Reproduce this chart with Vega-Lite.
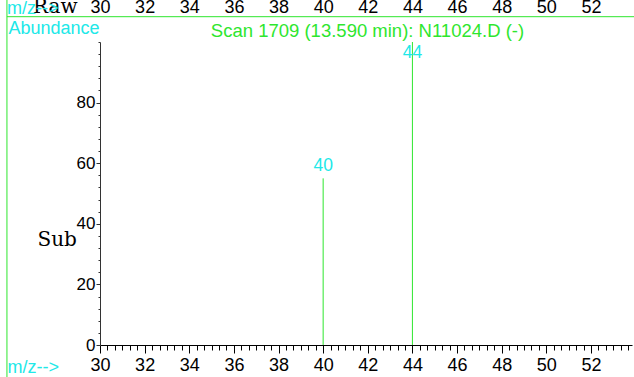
{
  "$schema": "https://vega.github.io/schema/vega-lite/v6.json",
  "width": 532,
  "height": 303,
  "autosize": {"type": "none"},
  "padding": {"left": 100, "top": 42, "right": 2, "bottom": 32},
  "background": "white",
  "config": {
    "view": {"stroke": null},
    "axis": {"grid": false, "labelFont": "Liberation Sans", "titleFont": "Liberation Sans", "titleFontWeight": "normal", "labelFlush": false, "labelOverlap": false},
    "text": {"font": "Liberation Sans"}
  },
  "data": {"values": [{"mz": 40, "abundance": 55}, {"mz": 44, "abundance": 100}]},
  "resolve": {"axis": {"x": "independent", "y": "independent"}},
  "layer": [
    {
      "mark": {"type": "rule", "color": "#2ee62e", "strokeWidth": 1},
      "encoding": {
        "x": {
          "field": "mz", "type": "quantitative",
          "scale": {"domain": [30, 53.84], "nice": false, "zero": false},
          "axis": {
            "orient": "bottom", "values": [30, 32, 34, 36, 38, 40, 42, 44, 46, 48, 50, 52],
            "title": "m/z-->", "titleColor": "#20e8e8", "titleFontSize": 18,
            "titleX": -93, "titleY": 27, "titleAlign": "left", "titleBaseline": "alphabetic",
            "labelFontSize": 18, "labelColor": "black", "tickSize": 8, "tickColor": "black",
            "domainColor": "black", "labelPadding": 3
          }
        },
        "y": {
          "field": "abundance", "type": "quantitative",
          "scale": {"domain": [0, 100], "nice": false, "zero": false},
          "axis": {
            "orient": "left", "values": [0, 20, 40, 60, 80],
            "title": "Abundance", "titleAngle": 0, "titleX": -92, "titleY": -9,
            "titleAlign": "left", "titleBaseline": "alphabetic", "titleColor": "#20e8e8", "titleFontSize": 18,
            "labelFontSize": 17, "labelColor": "black", "tickSize": 4, "labelPadding": 1,
            "domainColor": "#333333", "tickColor": "#333333"
          }
        },
        "y2": {"datum": 0}
      }
    },
    {
      "transform": [{"filter": "datum.abundance < 95"}],
      "mark": {"type": "text", "baseline": "bottom", "dy": -3, "fontSize": 17.5, "color": "#20e8e8"},
      "encoding": {
        "x": {
          "field": "mz", "type": "quantitative",
          "scale": {"domain": [30, 53.84], "nice": false, "zero": false},
          "axis": {
            "orient": "bottom",
            "values": [30.333, 30.667, 31, 31.333, 31.667, 32.333, 32.667, 33, 33.333, 33.667, 34.333, 34.667, 35, 35.333, 35.667, 36.333, 36.667, 37, 37.333, 37.667, 38.333, 38.667, 39, 39.333, 39.667, 40.333, 40.667, 41, 41.333, 41.667, 42.333, 42.667, 43, 43.333, 43.667, 44.333, 44.667, 45, 45.333, 45.667, 46.333, 46.667, 47, 47.333, 47.667, 48.333, 48.667, 49, 49.333, 49.667, 50.333, 50.667, 51, 51.333, 51.667, 52.333, 52.667, 53, 53.333, 53.667],
            "labels": false, "domain": false, "tickSize": 5, "tickColor": "black", "title": null
          }
        },
        "y": {
          "field": "abundance", "type": "quantitative",
          "scale": {"domain": [0, 100], "nice": false, "zero": false},
          "axis": {
            "orient": "left",
            "values": [4, 8, 12, 16, 24, 28, 32, 36, 44, 48, 52, 56, 64, 68, 72, 76, 84, 88, 92, 96, 100],
            "labels": false, "domain": false, "tickSize": 2, "tickColor": "#333333",
            "title": "Sub", "titleFont": "DejaVu Serif", "titleFontSize": 20, "titleColor": "black",
            "titleAngle": 0, "titleX": -63, "titleY": 203, "titleAlign": "left", "titleBaseline": "alphabetic"
          }
        },
        "text": {"field": "mz", "type": "quantitative"}
      }
    },
    {
      "transform": [{"filter": "datum.abundance >= 95"}],
      "mark": {"type": "text", "baseline": "top", "dy": 2, "fontSize": 17.5, "color": "#20e8e8"},
      "encoding": {
        "x": {
          "field": "mz", "type": "quantitative",
          "scale": {"domain": [30, 53.84], "nice": false, "zero": false},
          "axis": {
            "orient": "top", "values": [30, 32, 34, 36, 38, 40, 42, 44, 46, 48, 50, 52],
            "ticks": false, "tickSize": 0, "domain": false, "labelPadding": 26,
            "labelFontSize": 18, "labelColor": "black",
            "title": "Scan 1709 (13.590 min): N11024.D (-)", "titleColor": "#2ee62e", "titleFontSize": 18.5,
            "titleX": 267, "titleY": -6, "titleAlign": "center", "titleBaseline": "alphabetic"
          }
        },
        "y": {
          "field": "abundance", "type": "quantitative",
          "scale": {"domain": [0, 100], "nice": false, "zero": false},
          "axis": null
        },
        "text": {"field": "mz", "type": "quantitative"}
      }
    },
    {
      "data": {"values": [{"frame": "left"}]},
      "mark": {"type": "rule", "color": "#2ee62e", "strokeWidth": 1},
      "encoding": {
        "x": {"datum": 25.83, "type": "quantitative", "scale": {"domain": [30, 53.84], "nice": false, "zero": false}, "axis": null},
        "y": {"datum": 115, "type": "quantitative", "scale": {"domain": [0, 100], "nice": false, "zero": false}, "axis": null},
        "y2": {"datum": -11}
      }
    },
    {
      "data": {"values": [{"frame": "top"}]},
      "mark": {"type": "rule", "color": "#2ee62e", "strokeWidth": 1},
      "encoding": {
        "x": {"datum": 25.83, "type": "quantitative", "scale": {"domain": [30, 53.84], "nice": false, "zero": false}, "axis": null},
        "x2": {"datum": 56},
        "y": {"datum": 108.35, "type": "quantitative", "scale": {"domain": [0, 100], "nice": false, "zero": false}, "axis": null}
      }
    },
    {
      "data": {"values": [{"label": "Raw"}]},
      "mark": {"type": "text", "font": "DejaVu Serif", "fontSize": 20, "color": "black", "align": "left", "baseline": "alphabetic"},
      "encoding": {
        "x": {"datum": 27.0, "type": "quantitative", "scale": {"domain": [30, 53.84], "nice": false, "zero": false}, "axis": null},
        "y": {"datum": 109.7, "type": "quantitative", "scale": {"domain": [0, 100], "nice": false, "zero": false}, "axis": null},
        "text": {"field": "label"}
      }
    },
    {
      "data": {"values": [{"label": "m/z-->"}]},
      "mark": {"type": "text", "fontSize": 18, "color": "#20e8e8", "align": "left", "baseline": "alphabetic"},
      "encoding": {
        "x": {"datum": 25.83, "type": "quantitative", "scale": {"domain": [30, 53.84], "nice": false, "zero": false}, "axis": null},
        "y": {"datum": 109.3, "type": "quantitative", "scale": {"domain": [0, 100], "nice": false, "zero": false}, "axis": null},
        "text": {"field": "label"}
      }
    }
  ]
}
